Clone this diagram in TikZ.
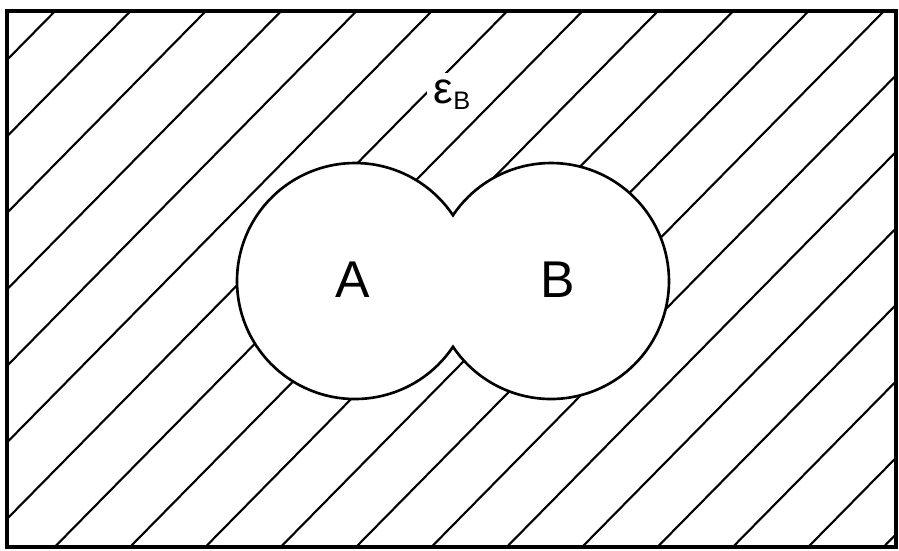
\documentclass[tikz,border=0pt]{standalone}
\usepackage{fontspec}
\setmainfont{Liberation Sans}
\usetikzlibrary{calc}

\tikzset{
  hatch/.style={line width=0.6pt},
  frame/.style={line width=1.1pt},
  blob/.style={fill=white, line width=0.75pt},
  letter/.style={font=\fontsize{14.7}{17}\selectfont}
}

\begin{document}
\begin{tikzpicture}[x=0.01cm,y=-0.01cm]
  \useasboundingbox (0,0) rectangle (899,550);

  \coordinate (NW) at (7,11);
  \coordinate (SE) at (896,547);
  \coordinate (CA) at (355,281);
  \coordinate (CB) at (551,281);

  % hatching of the complement
  \begin{scope}
    \clip (NW) rectangle (SE);
    \foreach \k in {0,...,18}
      \draw[hatch] ({66+75.35*\k},0) -- ++(-689.5,700);
  \end{scope}

  % A union B
  \filldraw[blob] ($(CA)+(33.85:118)$)
    arc[start angle=33.85, end angle=326.15, radius=118]
    arc[start angle=213.85, end angle=506.15, radius=118] -- cycle;

  \draw[frame] (NW) rectangle (SE);

  \node[letter] (A) at (353,280) {A};
  \node[letter] (B) at (558,280) {B};
  \node[fill=white, inner sep=2pt] (epsB) at (452,95)
    {{\fontsize{12.5}{14}\selectfont ε}{\fontsize{7.2}{8}\selectfont\raisebox{-0.45ex}{B}}};

\end{tikzpicture}
\end{document}
